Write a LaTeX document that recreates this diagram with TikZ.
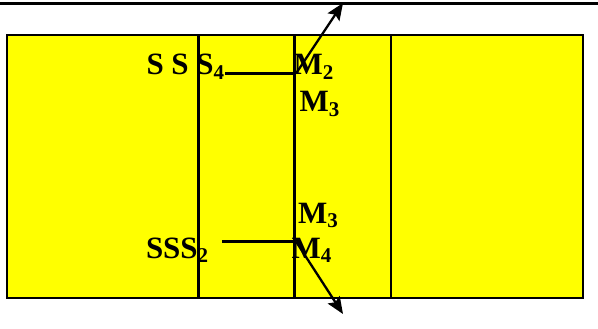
\documentclass[tikz,border=0pt]{standalone}
\usepackage{fontspec}
\setmainfont{Liberation Serif}
\usetikzlibrary{arrows.meta}
\newcommand{\lowsub}[1]{\raisebox{-0.16em}{\fontsize{21}{21}\selectfont #1}}
\tikzset{
  lbl/.style={inner sep=0pt, outer sep=0pt, anchor=base west, font=\fontsize{31}{34}\selectfont\bfseries},
  divider/.style={line width=2.2pt},
  conn/.style={line width=2.3pt},
  arr/.style={conn, -{Stealth[length=17pt,width=14pt,inset=3pt]}},
}
\definecolor{panel}{RGB}{255,255,0}
\begin{document}
\begin{tikzpicture}[x=1pt,y=-1pt]
\useasboundingbox (0,0) rectangle (598,329);
% top rule
\draw[line width=3pt] (0,4) -- (598,4);
% yellow panel
\draw[fill=panel, line width=2.8pt] (7,35) rectangle (583,298);
% vertical dividers
\draw[divider] (198.5,35) -- (198.5,298);
\draw[divider] (294.5,35) -- (294.5,298);
\draw[divider] (391,35) -- (391,298);
% labels
\node[lbl] (s4) at (146.5,75) {S S S\lowsub{4}};
\node[lbl] (m2) at (293.5,75) {M\lowsub{2}};
\node[lbl] (m3a) at (299.5,112) {M\lowsub{3}};
\node[lbl] (m3b) at (298,223) {M\lowsub{3}};
\node[lbl] (m4) at (291.5,258) {M\lowsub{4}};
\node[lbl] (s2) at (146,258) {SSS\lowsub{2}};
% connector points
\coordinate (a1) at (225,73.5);
\coordinate (j1) at (296,73.5);
\coordinate (t1) at (343,3);
\coordinate (a2) at (222,241.5);
\coordinate (j2) at (296,241.5);
\coordinate (t2) at (343,314);
% connectors
\draw[conn] (a1) -- (j1);
\draw[arr] (j1) -- (t1);
\draw[conn] (a2) -- (j2);
\draw[arr] (j2) -- (t2);
\end{tikzpicture}
\end{document}
